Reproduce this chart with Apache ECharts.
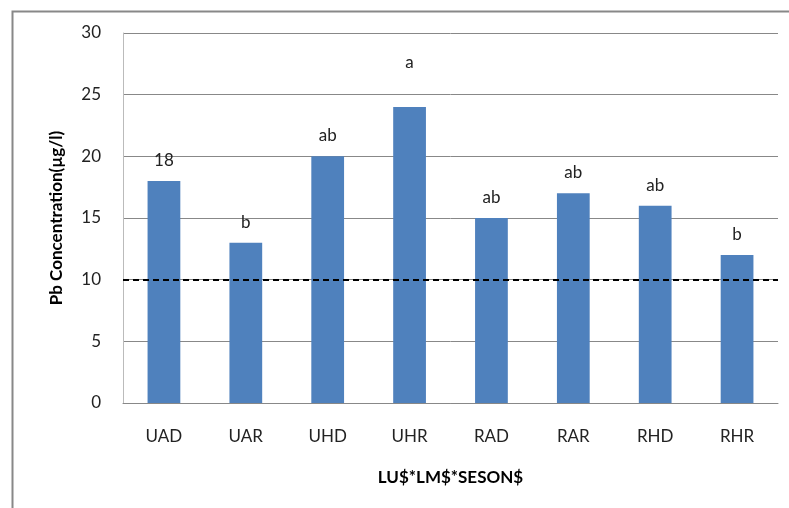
<!DOCTYPE html>
<html>
<head>
<meta charset="utf-8">
<script src="https://cdn.jsdelivr.net/npm/echarts@6/dist/echarts.min.js"></script>
<style>html,body{margin:0;padding:0;background:#fff}#c{width:789px;height:508px}</style>
</head>
<body>
<div id="c"></div>
<script>
const categories = ['UAD','UAR','UHD','UHR','RAD','RAR','RHD','RHR'];
const values = [18, 13, 20, 24, 15, 17, 16, 12];
const barLabels = ['18','b','ab','a','ab','ab','ab','b'];
const referenceLevel = 10;
const yTicks = [0, 5, 10, 15, 20, 25, 30];
const xTitle = 'LU$*LM$*SESON$';
const yTitle = 'Pb Concentration(µg/l)';

const FONT = 'Lato';
const labelDistance = {UHR: 36};

const chart = echarts.init(document.getElementById('c'), null, {renderer: 'canvas'});
chart.setOption({
  animation: false,
  backgroundColor: '#fff',
  textStyle: {fontFamily: FONT},
  graphic: [{
    type: 'rect', left: 10, top: 9, z: 100, silent: true,
    shape: {width: 800, height: 600},
    style: {fill: 'none', stroke: '#888', lineWidth: 2}
  }],
  grid: {left: 123, right: 11, top: 33, bottom: 105},
  xAxis: {
    type: 'category',
    data: categories,
    name: xTitle,
    nameLocation: 'middle',
    nameGap: 66,
    nameTextStyle: {fontFamily: FONT, fontSize: 17, fontWeight: 'bold', color: '#000'},
    axisLine: {lineStyle: {color: '#888', width: 1}},
    axisTick: {show: false},
    axisLabel: {fontFamily: FONT, fontSize: 17, color: '#222', margin: 25}
  },
  yAxis: {
    type: 'value',
    min: yTicks[0], max: yTicks[yTicks.length - 1], interval: yTicks[1] - yTicks[0],
    name: yTitle,
    nameLocation: 'middle',
    nameGap: 58,
    nameTextStyle: {fontFamily: FONT, fontSize: 17, fontWeight: 'bold', color: '#000'},
    axisLine: {show: true, lineStyle: {color: '#bbb', width: 1}},
    axisTick: {show: false},
    axisLabel: {fontFamily: FONT, fontSize: 17, color: '#222', margin: 22},
    splitLine: {lineStyle: {color: '#888', width: 1}}
  },
  series: [{
    type: 'bar',
    data: values.map((v, i) => ({
      value: v,
      label: {distance: labelDistance[categories[i]] || 12}
    })),
    barWidth: '40%',
    itemStyle: {color: '#4F81BD'},
    label: {
      show: true, position: 'top',
      fontFamily: FONT, fontSize: 17, color: '#222',
      formatter: p => barLabels[p.dataIndex]
    },
    markLine: {
      silent: true,
      symbol: 'none',
      label: {show: false},
      lineStyle: {color: '#000', type: [6, 4], width: 2},
      data: [{yAxis: referenceLevel}]
    }
  }]
});
</script>
</body>
</html>
